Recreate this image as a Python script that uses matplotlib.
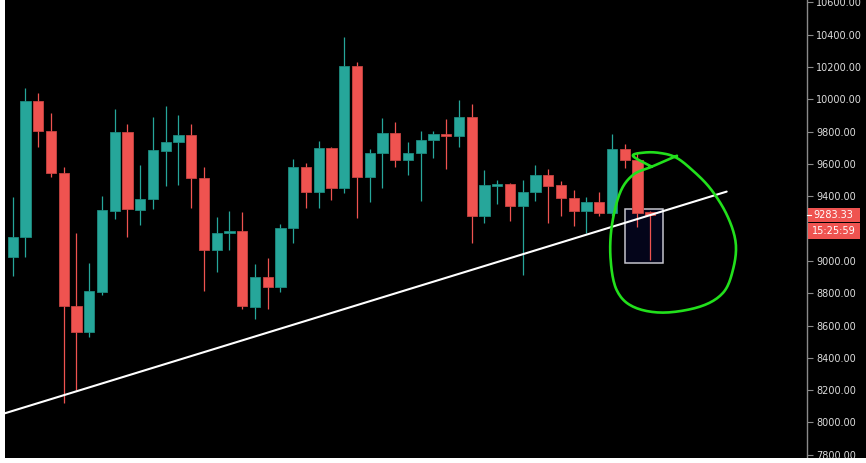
import numpy as np
import matplotlib
matplotlib.use("Agg")
import matplotlib.pyplot as plt
from matplotlib.patches import Rectangle

# ---- data ----
opens = [9023, 9146, 9990, 9804, 9542, 8723, 8562, 8810, 9311, 9798,
         9317, 9382, 9682, 9736, 9778, 9515, 9068, 9171, 9183, 8717,
         8902, 8841, 9206, 9582, 9427, 9699, 9452, 10207, 9521, 9668,
         9792, 9623, 9668, 9750, 9786, 9773, 9891, 9278, 9466, 9474,
         9342, 9429, 9530, 9468, 9390, 9311, 9363, 9295, 9691, 9625, 9305]
highs = [9398, 10069, 10038, 9918, 9580, 9171, 8985, 9402, 9941, 9850,
         9594, 9891, 9957, 9903, 9850, 9582, 9272, 9309, 9303, 8983,
         9018, 9229, 9631, 9608, 9742, 9703, 10384, 10230, 9693, 9885,
         9860, 9736, 9806, 9804, 9880, 9998, 9970, 9563, 9499, 9482,
         9499, 9594, 9569, 9493, 9439, 9398, 9427, 9784, 9722, 9672, 9309]
lows = [8907, 9023, 9707, 9521, 8119, 8201, 8527, 8789, 9258, 9150,
        9220, 9323, 9466, 9472, 9328, 8816, 8933, 9068, 8701, 8642,
        8701, 8810, 9109, 9330, 9330, 9379, 9422, 9268, 9367, 9452,
        9583, 9534, 9373, 9635, 9571, 9707, 9113, 9237, 9352, 9249,
        8913, 9371, 9237, 9280, 9218, 9171, 9278, 9278, 9577, 9212, 9008]
closes = [9146, 9990, 9804, 9542, 8723, 8562, 8814, 9313, 9798, 9320,
          9383, 9685, 9738, 9780, 9515, 9070, 9175, 9183, 8721, 8902,
          8841, 9206, 9582, 9427, 9699, 9452, 10207, 9521, 9668, 9792,
          9623, 9668, 9750, 9786, 9773, 9891, 9280, 9470, 9475, 9342,
          9427, 9530, 9466, 9388, 9311, 9363, 9295, 9691, 9625, 9299, 9283.33]

# 9200 is hidden behind the last-price labels in the reference
y_ticks = [7800, 8000, 8200, 8400, 8600, 8800, 9000, 9400, 9600, 9800,
           10000, 10200, 10400, 10600]
last_price_label = "9283.33"
countdown_label = "15:25:59"

# trendline (bar index, price)
trend_x = [-0.6, 56.0]
trend_p = [8057, 9429]

# highlighted box (bar index, price)
box_x = [48.0, 51.0]
box_p = [8985, 9320]

# hand-drawn green circle (bar index, price)
circle_x = [50.12, 48.65, 49.59, 50.77, 51.95, 53.12, 54.69, 56.02, 56.71, 56.49,
            55.71, 53.91, 51.0, 48.65, 47.37, 46.90, 46.98, 47.63, 48.65, 50.12, 52.10]
circle_p = [9583, 9650, 9671, 9668, 9643, 9575, 9451, 9284, 9111, 8944,
            8802, 8717, 8680, 8717, 8820, 9006, 9210, 9421, 9532, 9583, 9651]

# ---- style ----
UP = "#26a69a"
DOWN = "#ef5350"
UP_EDGE = "#1d8a7f"
DOWN_EDGE = "#c84442"
TXT = "#dcdcdc"

W, H = 866, 463
fig = plt.figure(figsize=(W / 100, H / 100), dpi=100, facecolor="white")
# black chart background
fig.patches.append(Rectangle((5 / W, 5 / H), 1, 1, transform=fig.transFigure,
                             facecolor="black", edgecolor="none", zorder=-5))

ax = fig.add_axes([5 / W, 5 / H, (807 - 5) / W, (463 - 5) / H])
ax.set_facecolor("black")
ax.set_xlim(-0.6, 62.3)
ax.set_ylim(7780, 10615)

x = np.arange(len(opens))
o = np.array(opens, dtype=float)
c = np.array(closes, dtype=float)
hi = np.array(highs, dtype=float)
lo = np.array(lows, dtype=float)
up = c >= o

# box behind candles
ax.add_patch(Rectangle((box_x[0], box_p[0]), box_x[1] - box_x[0], box_p[1] - box_p[0],
                       facecolor="#04051a", edgecolor="#c4c4cc", linewidth=1.1, zorder=1))

wick_colors = [UP if u else DOWN for u in up]
ax.vlines(x, lo, hi, colors=wick_colors, linewidth=0.9, zorder=2)
bottoms = np.minimum(o, c)
heights = np.maximum(np.abs(c - o), 10)
ax.bar(x, heights, bottom=bottoms, width=0.8,
       color=[UP if u else DOWN for u in up],
       edgecolor=[UP_EDGE if u else DOWN_EDGE for u in up],
       linewidth=0.6, zorder=3)

# trendline
ax.plot(trend_x, trend_p, color="white", linewidth=1.5, zorder=4, solid_capstyle="round")


# green circle (smooth Catmull-Rom through drawn stroke points)
def catmull(xs, ys, n=12):
    pts = np.column_stack([xs, ys])
    pts = np.vstack([pts[0], pts, pts[-1]])
    out = []
    for i in range(1, len(pts) - 2):
        p0, p1, p2, p3 = pts[i - 1], pts[i], pts[i + 1], pts[i + 2]
        for t in np.linspace(0, 1, n, endpoint=False):
            t2, t3 = t * t, t * t * t
            out.append(0.5 * ((2 * p1) + (-p0 + p2) * t + (2 * p0 - 5 * p1 + 4 * p2 - p3) * t2
                              + (-p0 + 3 * p1 - 3 * p2 + p3) * t3))
    out.append(pts[-2])
    out = np.array(out)
    return out[:, 0], out[:, 1]


cx, cy = catmull(circle_x, circle_p)
ax.plot(cx, cy, color="#22e01c", linewidth=1.9, zorder=5, solid_capstyle="round",
        solid_joinstyle="round")

# axes styling
for s in ["top", "left", "bottom"]:
    ax.spines[s].set_visible(False)
ax.spines["right"].set_color("#8a8a8a")
ax.spines["right"].set_linewidth(1.0)
ax.set_xticks([])
ax.yaxis.tick_right()
ax.set_yticks(y_ticks)
ax.set_yticklabels([f"{v:.2f}" for v in y_ticks])
ax.tick_params(axis="y", colors="#8a8a8a", labelcolor=TXT, length=4, width=0.8,
               pad=2.5, labelsize=7.0, direction="out")

# last price label boxes
fig.canvas.draw()
ypx = ax.transData.transform((0, closes[-1]))[1]
x0 = 807.5
bw = 52
fig.patches.append(Rectangle((x0, ypx - 7.0), bw, 14.5, transform=None,
                             facecolor=DOWN, edgecolor="none", zorder=6))
fig.patches.append(Rectangle((x0, ypx - 23.5), bw, 15.5, transform=None,
                             facecolor=DOWN, edgecolor="none", zorder=6))
fig.lines.append(plt.Line2D([807, 811], [ypx, ypx], transform=None, color="white",
                            linewidth=0.8, zorder=7))
fig.text((x0 + bw / 2) / W, ypx / H, last_price_label, color="white", fontsize=7.0,
         ha="center", va="center", zorder=8)
fig.text((x0 + bw / 2) / W, (ypx - 15.8) / H, countdown_label, color="white", fontsize=7.0,
         ha="center", va="center", zorder=8)

# white bottom strip (screenshot border)
fig.patches.append(Rectangle((0, 0), 1, 5 / H, transform=fig.transFigure,
                             facecolor="white", edgecolor="none", zorder=20))

fig.savefig("out.png", dpi=100, facecolor="white")
